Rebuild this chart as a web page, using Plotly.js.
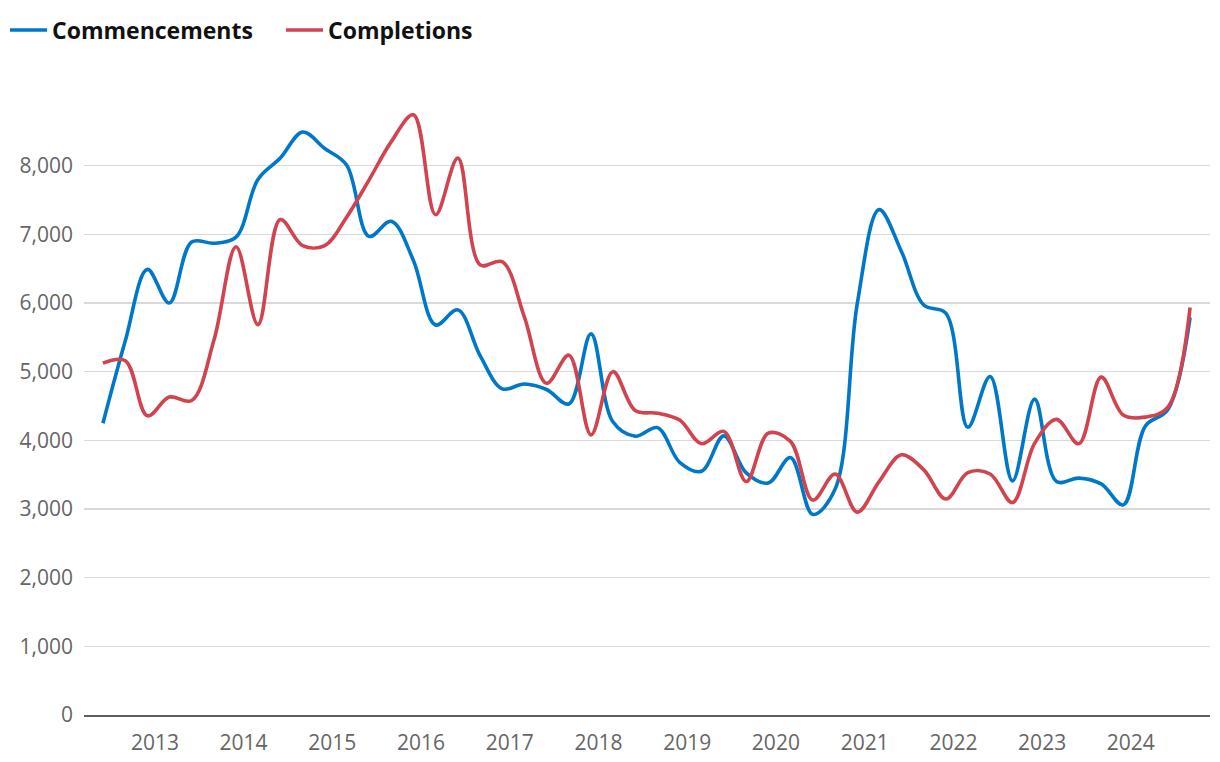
<!DOCTYPE html>
<html>
<head>
<meta charset="utf-8">
<script src="https://cdn.plot.ly/plotly-3.0.1.min.js"></script>
<style>
  html, body { margin: 0; padding: 0; background: #ffffff; }
  #chart { width: 1220px; height: 762px; }
</style>
</head>
<body>
<div id="chart"></div>
<script>
// Quarter dates (first day of the quarter's last month)
const quarters = [
  "2012-06-01","2012-09-01","2012-12-01",
  "2013-03-01","2013-06-01","2013-09-01","2013-12-01",
  "2014-03-01","2014-06-01","2014-09-01","2014-12-01",
  "2015-03-01","2015-06-01","2015-09-01","2015-12-01",
  "2016-03-01","2016-06-01","2016-09-01","2016-12-01",
  "2017-03-01","2017-06-01","2017-09-01","2017-12-01",
  "2018-03-01","2018-06-01","2018-09-01","2018-12-01",
  "2019-03-01","2019-06-01","2019-09-01","2019-12-01",
  "2020-03-01","2020-06-01","2020-09-01","2020-12-01",
  "2021-03-01","2021-06-01","2021-09-01","2021-12-01",
  "2022-03-01","2022-06-01","2022-09-01","2022-12-01",
  "2023-03-01","2023-06-01","2023-09-01","2023-12-01",
  "2024-03-01","2024-06-01","2024-09-01"
];

const commencements = [
  4250, 5450, 6490,
  6000, 6890, 6870, 6960,
  7800, 8110, 8490, 8250,
  8010, 6970, 7190, 6620,
  5680, 5900, 5230, 4750,
  4820, 4740, 4530, 5550,
  4270, 4060, 4185, 3680,
  3550, 4065, 3525, 3380,
  3750, 2920, 3290, 5990,
  7360, 6750, 5970, 5850,
  4190, 4930, 3410, 4600,
  3400, 3450, 3365, 3060,
  4210, 4445, 5790
];

const completions = [
  5124, 5160, 4357,
  4630, 4580, 5460, 6820,
  5685, 7215, 6835, 6835,
  7250, 7790, 8350, 8740,
  7285, 8110, 6555, 6600,
  5805, 4830, 5240, 4080,
  5000, 4435, 4395, 4295,
  3950, 4130, 3400, 4105,
  3985, 3130, 3510, 2955,
  3400, 3790, 3570, 3145,
  3530, 3510, 3095, 3955,
  4305, 3950, 4920, 4370,
  4338, 4480, 5935
];

const yearTickVals = ["2013-01-01","2014-01-01","2015-01-01","2016-01-01","2017-01-01","2018-01-01",
                      "2019-01-01","2020-01-01","2021-01-01","2022-01-01","2023-01-01","2024-01-01"];
const yearTickText = ["2013","2014","2015","2016","2017","2018","2019","2020","2021","2022","2023","2024"];
const yTickVals = [0, 1000, 2000, 3000, 4000, 5000, 6000, 7000, 8000];
const yTickText = ["0","1,000","2,000","3,000","4,000","5,000","6,000","7,000","8,000"];

const traces = [
  {
    name: "Commencements",
    x: quarters, y: commencements,
    type: "scatter", mode: "lines",
    line: { color: "#0078C8", width: 3.6, shape: "spline", smoothing: 1 }
  },
  {
    name: "Completions",
    x: quarters, y: completions,
    type: "scatter", mode: "lines",
    line: { color: "#D0434F", width: 3.6, shape: "spline", smoothing: 1 }
  }
];

const layout = {
  width: 1220, height: 762,
  margin: { l: 84, r: 10, t: 97, b: 47 },
  paper_bgcolor: "#ffffff",
  plot_bgcolor: "#ffffff",
  showlegend: true,
  legend: {
    orientation: "h",
    xref: "container", yref: "container",
    x: 5/1220, y: 1 - 30/762,
    xanchor: "left", yanchor: "middle",
    font: { family: "Open Sans, sans-serif", size: 23, color: "#111111", weight: 700 },
    traceorder: "normal",
    itemwidth: 37,
    entrywidth: 224
  },
  xaxis: {
    type: "date",
    range: ["2012-03-15", "2024-11-22"],
    tickmode: "array",
    tickvals: yearTickVals,
    ticktext: yearTickText,
    showgrid: false,
    zeroline: false,
    showline: true,
    linecolor: "#5f5f5f",
    linewidth: 2,
    ticks: "",
    ticklabelstandoff: 8,
    tickfont: { family: "Open Sans, sans-serif", size: 21, color: "#666666" },
    fixedrange: true
  },
  yaxis: {
    range: [0, 9000],
    tickmode: "array",
    tickvals: yTickVals,
    ticktext: yTickText,
    showgrid: true,
    gridcolor: "#d9d9d9",
    gridwidth: 1.5,
    zeroline: false,
    showline: false,
    ticks: "",
    ticklabelstandoff: 10,
    tickfont: { family: "Open Sans, sans-serif", size: 21, color: "#666666" },
    fixedrange: true
  }
};

Plotly.newPlot("chart", traces, layout, { displayModeBar: false, staticPlot: true });
</script>
</body>
</html>
